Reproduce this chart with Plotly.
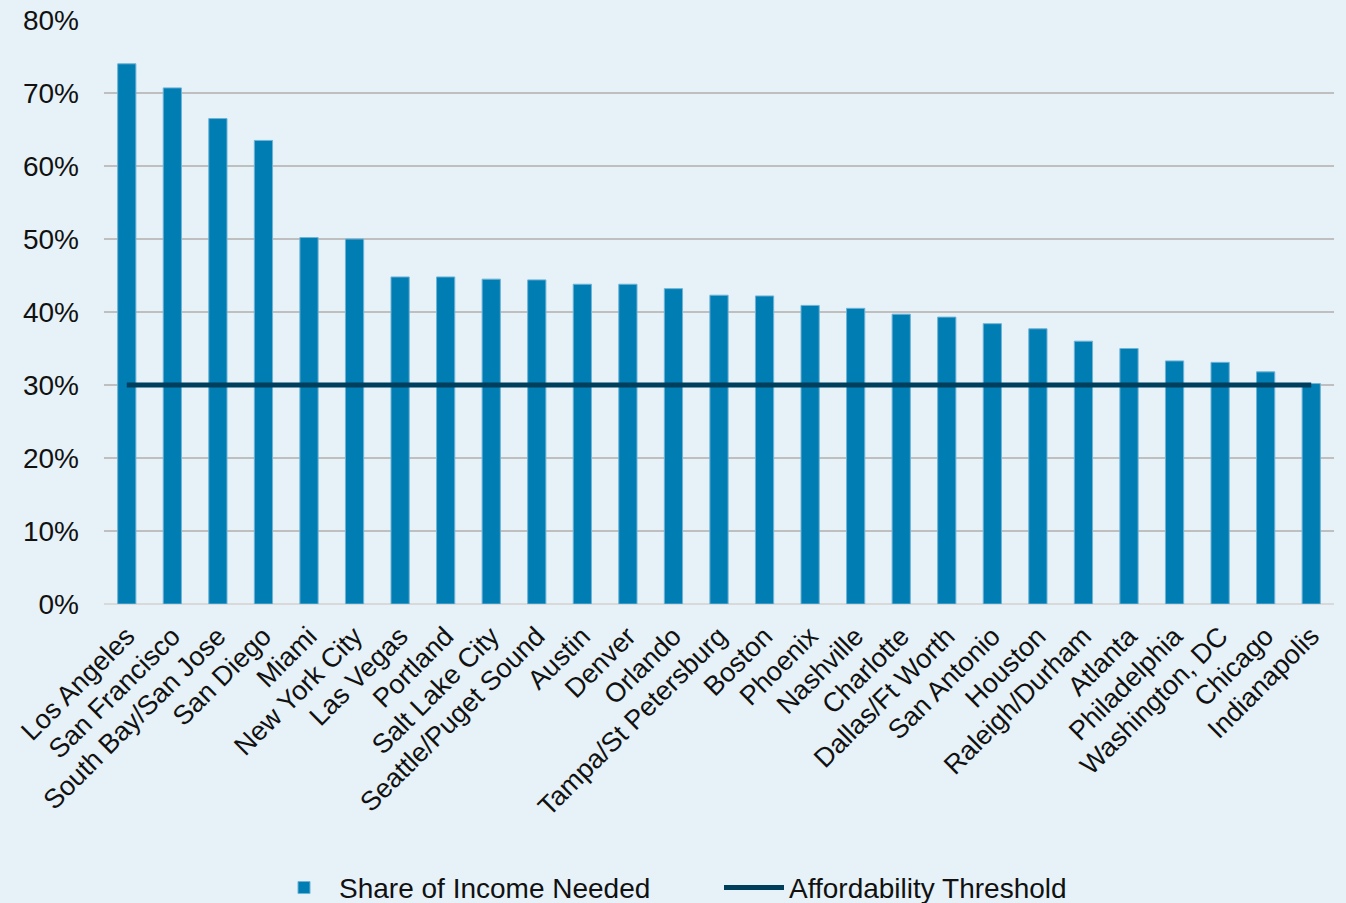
import plotly.graph_objects as go

cities = [
    "Los Angeles", "San Francisco", "South Bay/San Jose", "San Diego", "Miami",
    "New York City", "Las Vegas", "Portland", "Salt Lake City", "Seattle/Puget Sound",
    "Austin", "Denver", "Orlando", "Tampa/St Petersburg", "Boston", "Phoenix",
    "Nashville", "Charlotte", "Dallas/Ft Worth", "San Antonio", "Houston",
    "Raleigh/Durham", "Atlanta", "Philadelphia", "Washington, DC", "Chicago",
    "Indianapolis",
]
share_needed = [
    74.0, 70.7, 66.5, 63.5, 50.2,
    50.0, 44.8, 44.8, 44.5, 44.4,
    43.8, 43.8, 43.2, 42.3, 42.2, 40.9,
    40.5, 39.7, 39.3, 38.4, 37.7,
    36.0, 35.0, 33.3, 33.1, 31.8,
    30.2,
]
threshold_value = 30.0
threshold = [threshold_value] * len(cities)
y_ticks = [0, 10, 20, 30, 40, 50, 60, 70, 80]
y_tick_labels = [f"{v}%" for v in y_ticks]

BG = "#E6F1F8"
BAR = "#007DB3"
LINE = "#003F5C"
FONT = "Liberation Sans, Arial, sans-serif"
TEXT = "#111111"

fig = go.Figure()
fig.add_trace(go.Bar(
    x=cities, y=share_needed, name="Share of Income Needed",
    marker=dict(color=BAR, line=dict(color="#6FB3D6", width=1)),
))
fig.add_trace(go.Scatter(
    x=cities, y=threshold, name="Affordability Threshold", mode="lines",
    line=dict(color=LINE, width=5),
))

fig.update_layout(
    width=1346, height=903,
    paper_bgcolor=BG, plot_bgcolor=BG,
    margin=dict(l=104, r=12, t=20, b=299, autoexpand=False),
    bargap=0.6,
    font=dict(family=FONT, size=27, color=TEXT),
    showlegend=True,
    legend=dict(
        orientation="h", x=0.5, xanchor="center", y=-0.486, yanchor="middle",
        font=dict(family=FONT, size=28, color=TEXT),
        bgcolor="rgba(0,0,0,0)", itemwidth=60, entrywidth=375,
        traceorder="normal",
    ),
    xaxis=dict(
        tickangle=-45, showgrid=False, showline=False, ticks="",
        tickfont=dict(size=27), ticklabelstandoff=10, automargin=False,
    ),
    yaxis=dict(
        range=[0, 80], tickvals=y_ticks, ticktext=y_tick_labels,
        showgrid=True, gridcolor="#BFBFBF", gridwidth=1.5,
        zeroline=True, zerolinecolor="#D9D9D9", zerolinewidth=2,
        showline=False, ticks="", tickfont=dict(size=28),
        ticklabelstandoff=24, automargin=False,
    ),
)

fig.write_html("out.html")
